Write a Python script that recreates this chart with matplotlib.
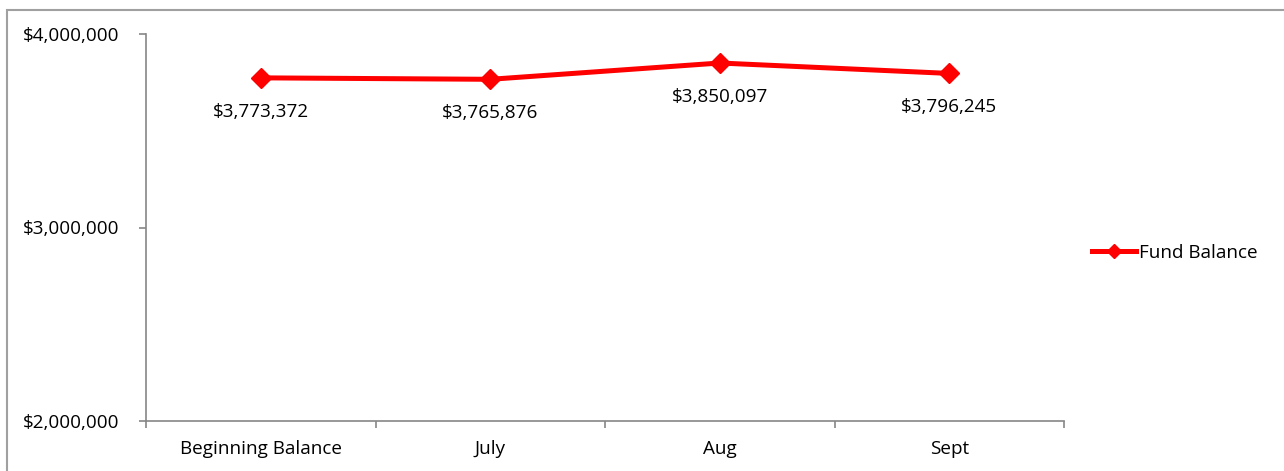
import numpy as np
import matplotlib
matplotlib.use("Agg")
import matplotlib.pyplot as plt
from matplotlib.patches import Rectangle
from matplotlib.ticker import FuncFormatter, FixedLocator

months = ["Beginning Balance", "July", "Aug", "Sept"]
balance = [3773372, 3765876, 3850097, 3796245]
series_name = "Fund Balance"

RED = "#ff0000"
GRID = "#868686"
plt.rcParams["font.family"] = ["Open Sans", "DejaVu Sans"]
FS = 13.6

W, H = 1284, 471
fig = plt.figure(figsize=(W / 100, H / 100), dpi=100)
ax = fig.add_axes([146 / W, 1 - 421 / H, (1064 - 146) / W, (421 - 34) / H])

x = np.arange(len(months))
ax.plot(x, balance, color=RED, lw=3.6, marker="D", ms=10.5, mec=RED, mfc=RED,
        label=series_name, solid_joinstyle="round")
for xi, v in zip(x, balance):
    ax.annotate(f"${v:,.0f}", (xi, v), xytext=(0, -24.5), textcoords="offset points",
                ha="center", va="center", fontsize=FS, color="#000000")

ax.set_xlim(-0.5, len(months) - 0.5)
ax.set_ylim(2_000_000, 4_000_000)
ax.set_yticks([2_000_000, 3_000_000, 4_000_000])
ax.yaxis.set_major_formatter(FuncFormatter(lambda v, p: f"${v:,.0f}"))
ax.set_xticks(x)
ax.set_xticklabels(months)
ax.xaxis.set_minor_locator(FixedLocator(np.arange(-0.5, len(months), 1.0)))
ax.tick_params(axis="x", which="major", length=0, pad=14, labelsize=FS)
ax.tick_params(axis="x", which="minor", length=5, width=1.2, color=GRID)
ax.tick_params(axis="y", length=5, width=1.2, color=GRID, pad=14, labelsize=FS)

for s in ["top", "right"]:
    ax.spines[s].set_visible(False)
for s in ["left", "bottom"]:
    ax.spines[s].set_color(GRID)
    ax.spines[s].set_linewidth(1.2)

leg = fig.legend(loc="center left", bbox_to_anchor=(1084 / W, 1 - 253 / H), frameon=False,
                 fontsize=FS, handlelength=2.35, handletextpad=0.15, borderaxespad=0,
                 markerscale=0.7)

# chart area border (only the left and top edges fall inside the image)
fig.patches.append(Rectangle((7 / W, -0.1), 1.2, 1 - 10 / H + 0.1, transform=fig.transFigure,
                             fill=False, edgecolor="#a0a0a0", lw=1.5))

fig.savefig("out.png", dpi=100)
